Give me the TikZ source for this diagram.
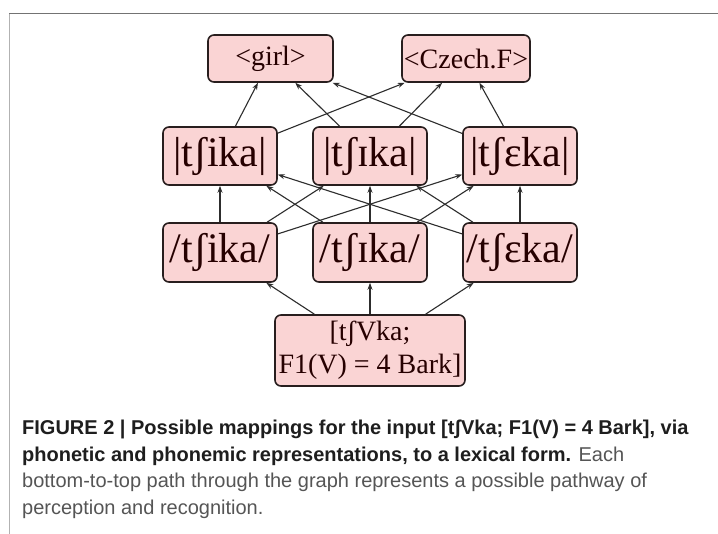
\documentclass[tikz,border=0pt]{standalone}
\usepackage{fontspec}
\setmainfont{Liberation Serif}
\newfontfamily\capfont{Liberation Sans}
\usetikzlibrary{arrows.meta}
\definecolor{boxfill}{RGB}{250,212,212}
\definecolor{boxline}{RGB}{40,30,30}
\definecolor{edgecol}{RGB}{45,45,45}
\definecolor{capbold}{RGB}{30,30,30}
\definecolor{capreg}{RGB}{85,85,85}
\begin{document}
\begin{tikzpicture}[x=1pt,y=-1pt,
  box/.style={draw=boxline,fill=boxfill,line width=1.6pt,rounded corners=6pt,inner sep=0pt,text=black!85!red},
  toprow/.style={box,font=\fontsize{28}{30}\selectfont,minimum height=47pt},
  midrow/.style={box,font=\fontsize{42}{44}\selectfont,minimum width=114pt,minimum height=58pt},
  edge/.style={draw=edgecol,line width=1.1pt,-{Stealth[length=7pt,width=5pt]}},
  capline/.style={anchor=base west,inner sep=0pt,font=\capfont\fontsize{20}{22}\selectfont}]
\useasboundingbox (0,0) rectangle (718,534);
\fill[white] (0,0) rectangle (718,534);
% frame
\draw[draw=black!30,line width=1pt] (9,13.5) -- (9,534);
\draw[draw=black!55,line width=1.4pt] (9,13.5) -- (718,13.5);
% nodes
\node[toprow,minimum width=125pt] (girl) at (270.5,58.5) {<girl>};
\node[toprow,minimum width=128pt] (czech) at (466,58.5) {<Czech.F>};
\node[midrow] (L2) at (220,156) {|tʃika|};
\node[midrow] (M2) at (370,156) {|tʃɪka|};
\node[midrow] (R2) at (520,156) {|tʃɛka|};
\node[midrow,minimum height=59pt] (L3) at (220,252.5) {/tʃika/};
\node[midrow,minimum height=59pt] (M3) at (370,252.5) {/tʃɪka/};
\node[midrow,minimum height=59pt] (R3) at (520,252.5) {/tʃɛka/};
\node[box,minimum width=190pt,minimum height=71pt,align=center,font=\fontsize{28}{33}\selectfont] (B) at (370,350.5) {[tʃVka;\\F1(V) = 4 Bark]};
% edges
\foreach \s in {L3,M3,R3}{
  \foreach \t in {L2,M2,R2}{
    \draw[edge] (\s) -- (\t);
  }
}
\foreach \s in {L2,M2,R2}{
  \foreach \t in {girl,czech}{
    \draw[edge] (\s) -- (\t);
  }
}
\foreach \t in {L3,M3,R3}{
  \draw[edge] (B) -- (\t);
}
% caption
\node[capline,text=capbold] (c1) at (22,435) {\bfseries FIGURE 2 | Possible mappings for the input [tʃVka; F1(V) = 4 Bark], via};
\node[capline,text=capbold] (c2) at (22,461.5) {\bfseries phonetic and phonemic representations, to a lexical form. \mdseries\color{capreg}Each};
\node[capline,text=capreg] (c3) at (22,488) {bottom-to-top path through the graph represents a possible pathway of};
\node[capline,text=capreg] (c4) at (22,514.5) {perception and recognition.};
\end{tikzpicture}
\end{document}
